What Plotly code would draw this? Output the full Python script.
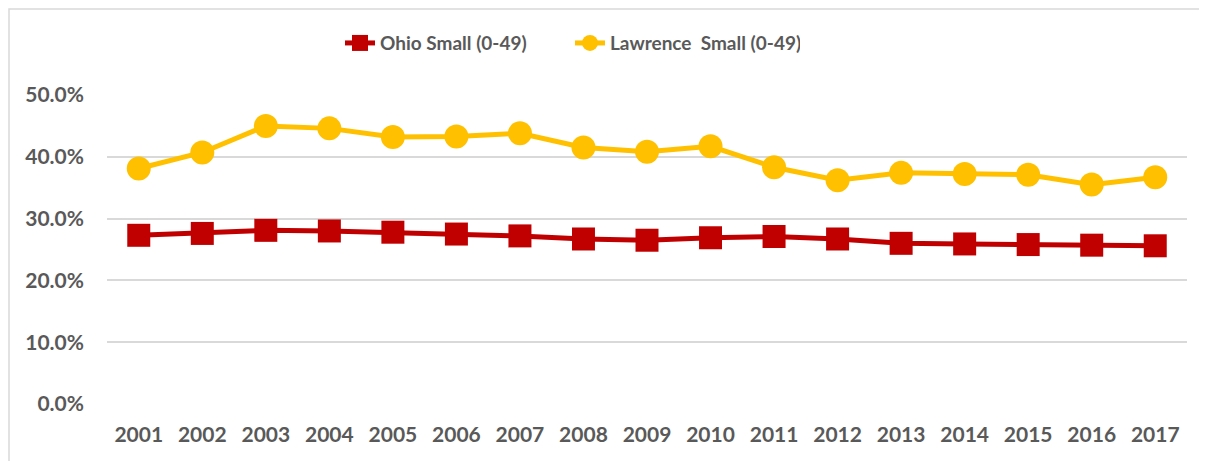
import plotly.graph_objects as go

years = [str(y) for y in range(2001, 2018)]
ohio_small = [27.3, 27.6, 28.1, 28.0, 27.8, 27.5, 27.2, 26.7, 26.5, 26.9, 27.1, 26.7, 26.0, 25.9, 25.8, 25.7, 25.6]
lawrence_small = [38.1, 40.7, 45.0, 44.6, 43.2, 43.3, 43.8, 41.5, 40.8, 41.7, 38.3, 36.2, 37.4, 37.2, 37.1, 35.5, 36.7]
ohio_pct = [v / 100 for v in ohio_small]
lawrence_pct = [v / 100 for v in lawrence_small]

RED = "#C00000"
GOLD = "#FFC000"
TXT = "#595959"
GRID = "#D9D9D9"
FONT = "Lato"

# page body has an 8px margin; the figure is laid out in its own coordinates
L, T, PW, PH = 99, 87, 1080, 309
W, H = 1207, 461

fig = go.Figure()
fig.add_trace(go.Scatter(
    x=years, y=ohio_pct, name="Ohio Small (0-49)", mode="lines+markers",
    line=dict(color=RED, width=5),
    marker=dict(symbol="square", size=23, color=RED),
    cliponaxis=False,
))
fig.add_trace(go.Scatter(
    x=years, y=lawrence_pct, name="Lawrence  Small (0-49)", mode="lines+markers",
    line=dict(color=GOLD, width=5),
    marker=dict(symbol="circle", size=24, color=GOLD),
    cliponaxis=False,
))

fig.update_layout(
    width=W, height=H,
    margin=dict(l=L, r=W - L - PW, t=T, b=H - T - PH, autoexpand=False),
    paper_bgcolor="white", plot_bgcolor="white",
    font=dict(family=FONT, color=TXT),
    showlegend=True,
    legend=dict(
        orientation="h", x=(332 - L) / PW, xanchor="left", y=1.168, yanchor="middle",
        font=dict(family=FONT, size=19, color=TXT, weight="bold"),
        itemwidth=30, tracegroupgap=0, entrywidth=185, entrywidthmode="pixels",
    ),
    xaxis=dict(
        type="category", range=[-0.5, 16.5], automargin=False,
        showgrid=False, zeroline=False, showline=False,
        ticks="", tickfont=dict(family=FONT, size=21, color=TXT, weight="bold"),
        ticklabelstandoff=16,
    ),
    yaxis=dict(
        range=[0, 0.5], dtick=0.1, tickformat=".1%", automargin=False,
        showgrid=True, gridcolor=GRID, gridwidth=1.5,
        zeroline=False, showline=False, ticks="",
        tickfont=dict(family=FONT, size=21, color=TXT, weight="bold"),
        ticklabelstandoff=22,
    ),
    shapes=[dict(
        type="rect", xref="paper", yref="paper",
        x0=(1 - L) / PW, x1=(W + 10 - L) / PW,
        y0=-(H + 10 - T - PH) / PH, y1=(T + PH - 1) / PH,
        line=dict(color=GRID, width=1.5), fillcolor="rgba(0,0,0,0)",
        layer="below",
    )],
)

fig.write_html("out.html")
